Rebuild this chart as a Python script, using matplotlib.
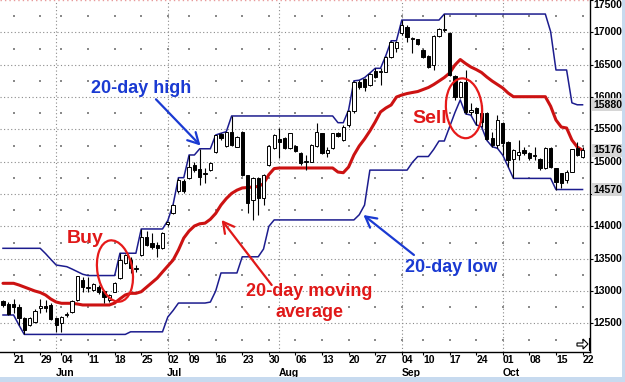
import pandas as pd
import matplotlib
matplotlib.use("Agg")
import matplotlib.pyplot as plt
import matplotlib.transforms as mtransforms
from matplotlib.patches import Ellipse, Polygon, Rectangle

plt.rcParams['font.family'] = ['Liberation Sans', 'DejaVu Sans']

# trading days on the chart (US market holidays skipped)
dates = pd.bdate_range("2012-05-17", "2012-10-22", freq="C",
                       holidays=["2012-05-28", "2012-07-04", "2012-09-03"])

opens = [12846, 12800, 12800, 12758, 12584, 12475, 12527, 12740, 12770, 12785,
         12584, 12506, 12630, 12672, 12862, 13171, 13050, 13016, 13068, 13005,
         12862, 12990, 13200, 13430, 13480, 13340, 13557, 13840, 13743, 13712,
         13660, 14030, 14200, 14540, 14700, 14745, 14950, 14890, 14810, 14870,
         15155, 15425, 15240, 15464, 15232, 15464, 14793, 14408, 14742, 14433,
         14950, 15207, 15346, 15360, 15207, 15243, 15139, 14995, 15000, 15243,
         15438, 15139, 15207, 15438, 15335, 15560, 15780, 16237, 16274, 16186,
         16407, 16385, 16391, 16623, 16753, 16985, 17087, 16900, 16892, 16727,
         16634, 16495, 16943, 17030, 16985, 16320, 16005, 16237, 15775, 15825,
         15760, 15757, 15360, 15260, 15595, 15310, 15040, 15105, 15180, 15130,
         15085, 15037, 14900, 15207, 14897, 14820, 14717, 14845, 15207, 15080]
highs = [12862, 12830, 12877, 12800, 12600, 12600, 12720, 12877, 12862, 12815,
         12600, 12620, 12680, 12865, 13240, 13215, 13210, 13130, 13100, 13020,
         12960, 13140, 13585, 13580, 13530, 13400, 13960, 13930, 13900, 13760,
         13920, 14090, 14340, 14753, 14740, 15104, 15000, 15200, 14900, 15000,
         15413, 15440, 15464, 15707, 15400, 15480, 14800, 14760, 14760, 14810,
         15260, 15430, 15516, 15380, 15450, 15260, 15150, 15100, 15270, 15603,
         15450, 15230, 15450, 15460, 15560, 15800, 16250, 16260, 16300, 16370,
         16444, 16444, 16640, 16870, 16870, 17190, 17110, 16923, 16900, 16740,
         16650, 16960, 17060, 17283, 17010, 16340, 16250, 16418, 15910, 15840,
         15880, 15770, 15464, 15720, 15610, 15320, 15200, 15335, 15230, 15150,
         15232, 15050, 15232, 15220, 14910, 14830, 14872, 15200, 15310, 15232]
lows = [12754, 12630, 12661, 12475, 12330, 12460, 12510, 12661, 12677, 12550,
        12370, 12370, 12600, 12660, 12850, 12985, 12990, 13000, 12960, 12815,
        12830, 12980, 13190, 13420, 13275, 13300, 13540, 13690, 13650, 13530,
        13650, 14000, 14190, 14520, 14520, 14730, 14840, 14640, 14670, 14860,
        15140, 15330, 15230, 15240, 15220, 14780, 14200, 14100, 14180, 14330,
        14930, 15190, 15052, 15190, 15190, 15150, 14950, 14870, 14990, 15230,
        15120, 15080, 15190, 15380, 15320, 15540, 15760, 16130, 16100, 16170,
        16290, 16186, 16380, 16610, 16700, 16960, 16855, 16685, 16800, 16600,
        16444, 16418, 16930, 17000, 16320, 15955, 15990, 15740, 15720, 15570,
        15540, 15330, 15232, 15207, 15100, 14923, 14742, 15026, 15100, 15030,
        15026, 14872, 14890, 14900, 14570, 14600, 14665, 14840, 15090, 15052]
closes = [12785, 12640, 12754, 12580, 12398, 12584, 12697, 12770, 12740, 12568,
          12475, 12600, 12650, 12850, 13233, 13068, 13070, 13110, 12990, 12904,
          12940, 13125, 13480, 13557, 13352, 13360, 13831, 13712, 13681, 13660,
          13902, 14070, 14330, 14720, 14540, 14920, 14875, 14760, 14830, 14985,
          15410, 15360, 15460, 15258, 15387, 14793, 14357, 14742, 14433, 14793,
          15243, 15413, 15310, 15207, 15438, 15170, 14975, 15005, 15258, 15464,
          15139, 15180, 15438, 15397, 15541, 15790, 16237, 16150, 16150, 16356,
          16305, 16395, 16623, 16855, 16855, 17120, 16932, 16915, 16815, 16623,
          16469, 16943, 17046, 17045, 16340, 16005, 16237, 15773, 15800, 15750,
          15620, 15346, 15260, 15645, 15285, 15026, 15180, 15155, 15140, 15052,
          15095, 14897, 15207, 14923, 14690, 14675, 14845, 15192, 15104, 15180]

# indicator lines as drawn on the chart
high20 = [13661, 13661, 13661, 13661, 13661, 13661, 13661, 13661, 13580, 13490,
          13403, 13390, 13377, 13340, 13300, 13260, 13240, 13240, 13240, 13240,
          13240, 13240, 13585, 13585, 13585, 13585, 13960, 13960, 13960, 13960,
          13960, 14090, 14340, 14753, 14753, 15104, 15104, 15200, 15200, 15200,
          15413, 15440, 15464, 15707, 15707, 15707, 15707, 15707, 15707, 15707,
          15707, 15707, 15707, 15707, 15707, 15707, 15707, 15707, 15707, 15707,
          15707, 15707, 15707, 15603, 15603, 15800, 16250, 16260, 16300, 16370,
          16444, 16444, 16640, 16870, 16870, 17190, 17190, 17190, 17190, 17190,
          17190, 17190, 17190, 17283, 17283, 17283, 17283, 17283, 17283, 17283,
          17283, 17283, 17283, 17283, 17283, 17283, 17283, 17283, 17283, 17283,
          17283, 17283, 17283, 17010, 16418, 16418, 16418, 15910, 15880, 15880]
low20 = [12630, 12630, 12630, 12475, 12330, 12330, 12330, 12330, 12330, 12330,
         12330, 12330, 12330, 12330, 12330, 12330, 12330, 12330, 12330, 12330,
         12330, 12330, 12330, 12330, 12370, 12370, 12370, 12370, 12370, 12370,
         12370, 12600, 12700, 12815, 12815, 12815, 12815, 12815, 12815, 12830,
         13000, 13280, 13280, 13280, 13280, 13530, 13530, 13530, 13530, 13650,
         14000, 14100, 14100, 14100, 14100, 14100, 14100, 14100, 14100, 14100,
         14100, 14100, 14100, 14100, 14100, 14100, 14100, 14180, 14330, 14870,
         14870, 14870, 14870, 14870, 14870, 14870, 14870, 14990, 15080, 15080,
         15080, 15190, 15320, 15320, 15540, 15760, 15955, 15740, 15720, 15570,
         15540, 15330, 15232, 15207, 15100, 14923, 14742, 14742, 14742, 14742,
         14742, 14742, 14742, 14742, 14570, 14570, 14570, 14570, 14570, 14570]
ma20 = [13120, 13120, 13120, 13094, 13063, 13032, 13001, 12978, 12939, 12877,
        12831, 12811, 12811, 12811, 12800, 12785, 12785, 12785, 12785, 12785,
        12785, 12815, 12880, 12940, 12965, 12965, 12990, 13060, 13130, 13200,
        13295, 13388, 13480, 13635, 13820, 13929, 14006, 14040, 14050, 14110,
        14200, 14330, 14430, 14510, 14560, 14594, 14601, 14609, 14617, 14660,
        14800, 14894, 14903, 14903, 14903, 14903, 14903, 14903, 14903, 14903,
        14903, 14903, 14903, 14840, 14830, 14918, 15104, 15243, 15351, 15475,
        15614, 15769, 15830, 15877, 16000, 16031, 16054, 16070, 16085, 16116,
        16147, 16193, 16247, 16302, 16371, 16495, 16580, 16518, 16464, 16425,
        16379, 16309, 16247, 16193, 16139, 16062, 16005, 16005, 16005, 16005,
        16005, 16005, 16005, 15857, 15645, 15536, 15521, 15335, 15227, 15176]

price_ticks = [12500, 13000, 13500, 14000, 14500, 15000, 15500, 16000, 16500, 17000, 17500]
last_values = [high20[-1], ma20[-1], low20[-1]]

navy = '#1c1c8e'
ma_red = '#cc1212'
txt_blue = '#1a3ad2'
txt_red = '#e01818'
grid_col = '#8a8a8a'

idx = list(range(len(dates)))

fig = plt.figure(figsize=(6.25, 3.82), dpi=100)
ax = fig.add_axes([0.0, 30 / 382, 590 / 625, 352 / 382])
ax.set_xlim(-0.56, 110.4)
ax.set_ylim(12058, 17500)

# week ticks and month starts from the dates
week_idx = [i for i in idx[1:] if dates[i].weekday() < dates[i - 1].weekday()]
week_lbl = [dates[i].strftime('%d') for i in week_idx]
month_idx = [i for i in idx[1:] if dates[i].month != dates[i - 1].month]
month_lbl = [dates[i].strftime('%b') for i in month_idx]

# dotted grid
dots = (0, (1, 2.2))
for p in price_ticks[:-1]:
    ax.axhline(p, color=grid_col, lw=0.8, ls=dots, zorder=0)
ax.axhline(17495, color='#e89a9a', lw=1.0, ls=dots, zorder=0)
for i in month_idx:
    ax.axvline(i, color=grid_col, lw=0.8, ls=dots, zorder=0)
for p in price_ticks:
    ax.scatter(week_idx, [p - 250] * len(week_idx), s=1.2, marker='s',
               color=grid_col, linewidths=0, zorder=0)

# channel and moving average
ax.plot(idx, high20, color=navy, lw=1.1, zorder=2)
ax.plot(idx, low20, color=navy, lw=1.1, zorder=2)
ax.plot(idx, ma20, color=ma_red, lw=2.2, zorder=2, solid_capstyle='round')

# candles
ax.vlines(idx, lows, highs, color='black', lw=0.8, zorder=3)
body_bot = [min(o, c) for o, c in zip(opens, closes)]
body_h = [max(abs(c - o), 18) for o, c in zip(opens, closes)]
body_col = ['white' if c >= o else 'black' for o, c in zip(opens, closes)]
ax.bar(idx, body_h, bottom=body_bot, width=0.62, color=body_col,
       edgecolor='black', linewidth=0.7, zorder=4)

# annotations
font = dict(fontsize=13, fontweight='bold')
ax.text(25.95, 16135, "20-day high", color=txt_blue, ha='center', va='center', **font)
ax.text(84.2, 13360, "20-day low", color=txt_blue, ha='center', va='center', **font)
ax.text(15.4, 13813, "Buy", color=txt_red, ha='center', va='center', fontsize=14, fontweight='bold')
ax.text(80.3, 15668, "Sell", color=txt_red, ha='center', va='center', fontsize=14, fontweight='bold')
ax.text(57.5, 12993, "20-day moving", color=txt_red, ha='center', va='center', **font)
ax.text(57.7, 12676, "average", color=txt_red, ha='center', va='center', **font)

arrow = dict(arrowstyle='->,head_length=0.55,head_width=0.3', lw=1.6,
             shrinkA=0, shrinkB=0, mutation_scale=14)
ax.annotate("", xy=(37.14, 15250), xytext=(28.77, 15965),
            arrowprops=dict(color=txt_blue, **arrow), zorder=6)
ax.annotate("", xy=(41.12, 14099), xytext=(50.53, 13094),
            arrowprops=dict(color=txt_red, **arrow), zorder=6)
ax.annotate("", xy=(67.79, 14176), xytext=(77.29, 13558),
            arrowprops=dict(color=txt_blue, **arrow), zorder=6)

for (cx, cy), w, h, ang in [((21.06, 13310), 0.35, 0.62, 10), ((86.7, 15826), 0.36, 0.60, 5)]:
    tr = fig.dpi_scale_trans + mtransforms.ScaledTranslation(cx, cy, ax.transData)
    ax.add_patch(Ellipse((0, 0), w, h, angle=ang, transform=tr, fill=False,
                         edgecolor='#e61a1a', lw=1.6, zorder=7))

# axes frame
for side in ['left', 'top']:
    ax.spines[side].set_visible(False)
for side in ['right', 'bottom']:
    ax.spines[side].set_linewidth(1.0)
    ax.spines[side].set_color('black')

ax.set_xticks(week_idx)
ax.set_xticklabels(week_lbl, ha='left', fontsize=7.5, fontweight='bold')
ax.tick_params(axis='x', length=2, width=0.8, pad=0.3, direction='out')
blend = mtransforms.blended_transform_factory(ax.transData, ax.transAxes)
for i, name in zip(month_idx, month_lbl):
    ax.text(i - 0.1, -0.059, name, transform=blend, ha='left', va='center',
            fontsize=7.5, fontweight='bold')

ax.yaxis.tick_right()
ax.set_yticks(price_ticks)
ax.set_yticklabels([])
ax.tick_params(axis='y', length=2.5, width=0.8, direction='out')
yblend = mtransforms.blended_transform_factory(ax.transAxes, ax.transData)
for p in price_ticks:
    # a level whose label sits under a boxed last value is hidden
    if any(abs(p - v) < 100 for v in last_values):
        continue
    ax.text(1.006, p, str(p), transform=yblend, ha='left',
            va='top' if p == 17500 else 'center', fontsize=7.5, fontweight='bold',
            clip_on=False)
for v in last_values:
    ax.text(1.006, v, str(v), transform=yblend, ha='left', va='center',
            fontsize=7.5, fontweight='bold', zorder=8, clip_on=False,
            bbox=dict(boxstyle='square,pad=0.15', facecolor='#d6d6d6', edgecolor='none'))

# scroll-to-end icon in the corner
icon = Polygon([(577, 343), (583, 343), (583, 339), (588, 344), (583, 349), (583, 346), (577, 346)],
               closed=True, fill=False, edgecolor='black', lw=0.8,
               transform=mtransforms.Affine2D().scale(1 / 590, -1 / 352).translate(0, 1) + ax.transAxes)
ax.add_patch(icon)
ax.plot([589 / 590, 589 / 590], [(352 - 338) / 352, (352 - 350) / 352], color='black', lw=0.8,
        transform=ax.transAxes, clip_on=False)

# light window border
fig.patches.append(Rectangle((0, 0), 1, 5 / 382, transform=fig.transFigure,
                             facecolor='#c7daef', edgecolor='none'))
fig.patches.append(Rectangle((622 / 625, 0), 3 / 625, 1, transform=fig.transFigure,
                             facecolor='#c7daef', edgecolor='none'))

fig.savefig("out.png", dpi=100)
